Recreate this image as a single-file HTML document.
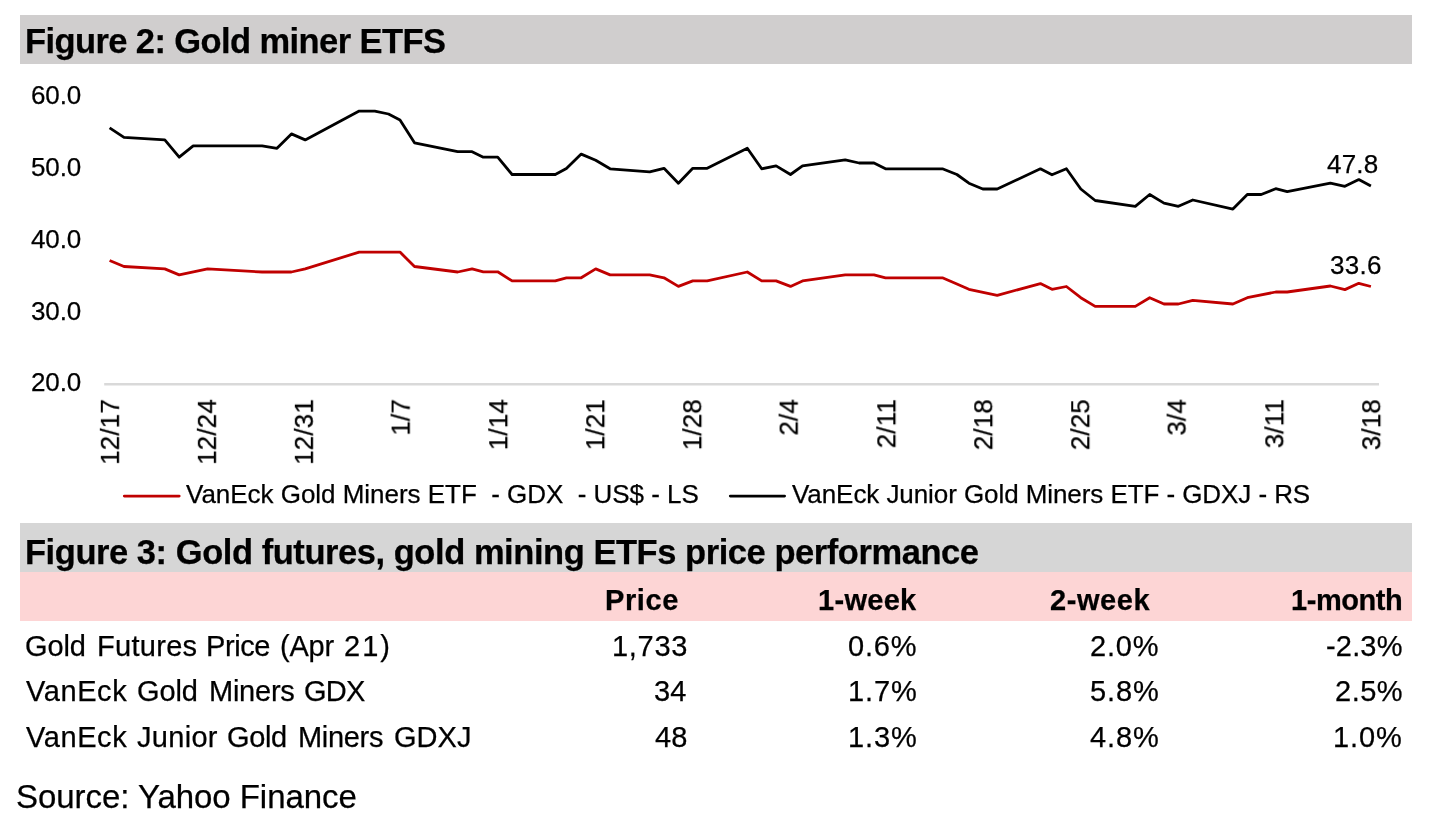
<!DOCTYPE html>
<html><head><meta charset="utf-8"><title>Gold miner ETFs</title><style>
html,body{margin:0;padding:0;background:#fff;}
body{width:1440px;height:833px;position:relative;overflow:hidden;font-family:"Liberation Sans",sans-serif;color:#000;}
.t{position:absolute;white-space:pre;line-height:1;will-change:transform;-webkit-text-stroke:0.25px #000;}
.b{font-weight:bold;}
.bar{position:absolute;left:20px;width:1392px;}
</style></head><body>
<div class="bar" style="top:15px;height:49px;background:#d0cece;"></div>
<div class="bar" style="top:523px;height:49px;background:#d6d6d6;"></div>
<div class="bar" style="top:572px;height:49px;background:#fdd5d5;"></div>
<div class="t b" style="left:25.30px;top:23.78px;font-size:34.5px;letter-spacing:-0.592px;">Figure 2: Gold miner ETFS</div>
<div class="t" style="left:31.30px;top:81.98px;font-size:26px;letter-spacing:-0.133px;">60.0</div>
<div class="t" style="left:31.30px;top:153.98px;font-size:26px;letter-spacing:-0.133px;">50.0</div>
<div class="t" style="left:31.30px;top:225.98px;font-size:26px;letter-spacing:-0.133px;">40.0</div>
<div class="t" style="left:31.30px;top:297.98px;font-size:26px;letter-spacing:-0.133px;">30.0</div>
<div class="t" style="left:31.30px;top:368.98px;font-size:26px;letter-spacing:-0.133px;">20.0</div>
<div class="t" style="left:1327.30px;top:150.98px;font-size:26px;letter-spacing:0.167px;">47.8</div>
<div class="t" style="left:1330.10px;top:251.98px;font-size:26px;letter-spacing:0.300px;">33.6</div>
<div class="t" style="left:185.50px;top:480.98px;font-size:26px;letter-spacing:-0.027px;">VanEck Gold Miners ETF  - GDX  - US$ - LS</div>
<div class="t" style="left:791.50px;top:480.98px;font-size:26px;letter-spacing:-0.073px;">VanEck Junior Gold Miners ETF - GDXJ - RS</div>
<div class="t b" style="left:25.30px;top:534.78px;font-size:34.5px;letter-spacing:-0.449px;">Figure 3: Gold futures, gold mining ETFs price performance</div>
<div class="t b" style="left:605.10px;top:586.44px;font-size:29px;letter-spacing:0.600px;">Price</div>
<div class="t b" style="left:818.00px;top:586.44px;font-size:29px;letter-spacing:0.300px;">1-week</div>
<div class="t b" style="left:1049.70px;top:586.44px;font-size:29px;letter-spacing:0.580px;">2-week</div>
<div class="t b" style="left:1291.00px;top:586.44px;font-size:29px;letter-spacing:-0.450px;">1-month</div>
<div class="t" style="left:25.10px;top:632.44px;font-size:29px;letter-spacing:-0.100px;">Gold</div>
<div class="t" style="left:97.00px;top:632.44px;font-size:29px;letter-spacing:0.300px;">Futures</div>
<div class="t" style="left:206.10px;top:632.44px;font-size:29px;letter-spacing:-0.400px;">Price</div>
<div class="t" style="left:280.30px;top:632.44px;font-size:29px;letter-spacing:-0.233px;">(Apr</div>
<div class="t" style="left:343.60px;top:632.44px;font-size:29px;letter-spacing:2.050px;">21)</div>
<div class="t" style="left:26.10px;top:677.44px;font-size:29px;letter-spacing:0.580px;">VanEck</div>
<div class="t" style="left:137.30px;top:677.44px;font-size:29px;letter-spacing:-0.100px;">Gold</div>
<div class="t" style="left:209.00px;top:677.44px;font-size:29px;letter-spacing:-0.240px;">Miners</div>
<div class="t" style="left:304.30px;top:677.44px;font-size:29px;letter-spacing:-0.750px;">GDX</div>
<div class="t" style="left:26.10px;top:723.44px;font-size:29px;letter-spacing:0.580px;">VanEck</div>
<div class="t" style="left:137.30px;top:723.44px;font-size:29px;letter-spacing:0.300px;">Junior</div>
<div class="t" style="left:226.50px;top:723.44px;font-size:29px;letter-spacing:-0.367px;">Gold</div>
<div class="t" style="left:297.90px;top:723.44px;font-size:29px;letter-spacing:-0.320px;">Miners</div>
<div class="t" style="left:393.70px;top:723.44px;font-size:29px;letter-spacing:0.033px;">GDXJ</div>
<div class="t" style="left:611.70px;top:632.44px;font-size:29px;letter-spacing:0.700px;">1,733</div>
<div class="t" style="left:654.30px;top:677.44px;font-size:29px;">34</div>
<div class="t" style="left:655.30px;top:723.44px;font-size:29px;">48</div>
<div class="t" style="left:848.00px;top:632.44px;font-size:29px;letter-spacing:0.833px;">0.6%</div>
<div class="t" style="left:847.60px;top:677.44px;font-size:29px;letter-spacing:0.900px;">1.7%</div>
<div class="t" style="left:847.60px;top:723.44px;font-size:29px;letter-spacing:0.900px;">1.3%</div>
<div class="t" style="left:1090.30px;top:632.44px;font-size:29px;letter-spacing:0.833px;">2.0%</div>
<div class="t" style="left:1089.90px;top:677.44px;font-size:29px;letter-spacing:0.900px;">5.8%</div>
<div class="t" style="left:1089.90px;top:723.44px;font-size:29px;letter-spacing:0.900px;">4.8%</div>
<div class="t" style="left:1325.60px;top:632.44px;font-size:29px;letter-spacing:0.175px;">-2.3%</div>
<div class="t" style="left:1334.80px;top:677.44px;font-size:29px;letter-spacing:0.500px;">2.5%</div>
<div class="t" style="left:1333.40px;top:723.44px;font-size:29px;letter-spacing:0.900px;">1.0%</div>
<div class="t" style="left:16.20px;top:780.05px;font-size:33px;letter-spacing:-0.050px;">Source: Yahoo Finance</div>
<svg style="position:absolute;left:0;top:0" width="1440" height="833" viewBox="0 0 1440 833">
<line x1="104.2" y1="384.3" x2="1379" y2="384.3" stroke="#d9d9d9" stroke-width="2.5"/>
<polyline points="109.6,260.5 124,266.5 164.8,268.9 179.2,274.9 207.6,268.9 262.1,272 291.4,272 305.2,268.9 359.2,252.1 400,252.1 414.5,266.5 457.7,272 472.1,268.9 483.3,271.8 497.7,271.8 512.1,280.9 555.3,280.9 566.4,277.8 581.2,277.8 595.7,268.9 610.1,274.9 649.7,274.9 664,277.8 678.4,286.4 692.8,280.9 707.2,280.9 747.3,272 761.7,280.9 776.1,280.9 790.5,286.4 802.5,280.9 845.2,274.9 874,274.9 885.5,277.8 942.4,277.8 956.9,284 968.9,289.3 997.2,295.3 1040.4,283.6 1052,289.3 1066.4,286.5 1080.8,297.7 1095.2,306.4 1135.3,306.4 1149.7,297.7 1164,304 1178.4,304 1192.8,300.4 1232.9,304 1247.3,297.7 1275.7,292 1287.2,292 1330.4,286 1344.9,289.6 1358.8,283.3 1370.9,286.5" fill="none" stroke="#c00000" stroke-width="2.8" stroke-linejoin="round"/>
<polyline points="109.6,127.9 124,137.3 164.8,139.9 179.2,157.2 193.2,145.9 262.1,145.9 277,148.3 291.4,133.9 305.2,139.9 359.2,111.1 374.8,111.1 388.5,114 400,120 414.5,142.8 457.7,151.7 472.1,151.7 483.3,157.2 497.7,157.2 512.1,174.5 555.3,174.5 566.4,168.5 581.2,154.1 595.7,160.3 610.1,168.8 649.7,171.9 664,168.3 678.4,183.2 692.8,168.3 707.2,168.3 747.3,148.3 761.7,168.8 776.1,165.9 790.5,174.5 802.5,165.9 845.2,159.9 859.1,163 874,163 885.5,168.8 942.4,168.8 956.9,174.5 968.9,183.2 982.8,189 997.2,189 1040.4,168.8 1052,174.8 1066.4,168.8 1080.8,189 1095.2,200.5 1135.3,206.3 1149.7,194.5 1164,203.1 1178.4,206.3 1192.8,200 1232.9,209.1 1247.3,194.5 1261.2,194.5 1275.7,188.7 1287.2,191.6 1330.4,183.2 1344.9,186.3 1358.8,179.6 1370.9,186.1" fill="none" stroke="#000" stroke-width="2.8" stroke-linejoin="round"/>
<line x1="124.3" y1="496.1" x2="179.2" y2="496.1" stroke="#c00000" stroke-width="2.8" stroke-linecap="round"/>
<line x1="730.3" y1="496.1" x2="784.6" y2="496.1" stroke="#000" stroke-width="2.8" stroke-linecap="round"/>
</svg>
<div style="position:absolute;left:109.90px;top:399.0px;width:0;height:0;"><div class="t" style="right:0;top:-13.00px;font-size:26px;letter-spacing:0.15px;transform-origin:100% 50%;transform:rotate(-90deg);">12/17</div></div>
<div style="position:absolute;left:206.90px;top:399.0px;width:0;height:0;"><div class="t" style="right:0;top:-13.00px;font-size:26px;letter-spacing:0.15px;transform-origin:100% 50%;transform:rotate(-90deg);">12/24</div></div>
<div style="position:absolute;left:303.90px;top:399.0px;width:0;height:0;"><div class="t" style="right:0;top:-13.00px;font-size:26px;letter-spacing:0.15px;transform-origin:100% 50%;transform:rotate(-90deg);">12/31</div></div>
<div style="position:absolute;left:400.90px;top:399.0px;width:0;height:0;"><div class="t" style="right:0;top:-13.00px;font-size:26px;letter-spacing:0.15px;transform-origin:100% 50%;transform:rotate(-90deg);">1/7</div></div>
<div style="position:absolute;left:497.90px;top:399.0px;width:0;height:0;"><div class="t" style="right:0;top:-13.00px;font-size:26px;letter-spacing:0.15px;transform-origin:100% 50%;transform:rotate(-90deg);">1/14</div></div>
<div style="position:absolute;left:594.90px;top:399.0px;width:0;height:0;"><div class="t" style="right:0;top:-13.00px;font-size:26px;letter-spacing:0.15px;transform-origin:100% 50%;transform:rotate(-90deg);">1/21</div></div>
<div style="position:absolute;left:691.90px;top:399.0px;width:0;height:0;"><div class="t" style="right:0;top:-13.00px;font-size:26px;letter-spacing:0.15px;transform-origin:100% 50%;transform:rotate(-90deg);">1/28</div></div>
<div style="position:absolute;left:788.90px;top:399.0px;width:0;height:0;"><div class="t" style="right:0;top:-13.00px;font-size:26px;letter-spacing:0.15px;transform-origin:100% 50%;transform:rotate(-90deg);">2/4</div></div>
<div style="position:absolute;left:885.90px;top:399.0px;width:0;height:0;"><div class="t" style="right:0;top:-13.00px;font-size:26px;letter-spacing:0.15px;transform-origin:100% 50%;transform:rotate(-90deg);">2/11</div></div>
<div style="position:absolute;left:982.90px;top:399.0px;width:0;height:0;"><div class="t" style="right:0;top:-13.00px;font-size:26px;letter-spacing:0.15px;transform-origin:100% 50%;transform:rotate(-90deg);">2/18</div></div>
<div style="position:absolute;left:1079.90px;top:399.0px;width:0;height:0;"><div class="t" style="right:0;top:-13.00px;font-size:26px;letter-spacing:0.15px;transform-origin:100% 50%;transform:rotate(-90deg);">2/25</div></div>
<div style="position:absolute;left:1176.90px;top:399.0px;width:0;height:0;"><div class="t" style="right:0;top:-13.00px;font-size:26px;letter-spacing:0.15px;transform-origin:100% 50%;transform:rotate(-90deg);">3/4</div></div>
<div style="position:absolute;left:1273.90px;top:399.0px;width:0;height:0;"><div class="t" style="right:0;top:-13.00px;font-size:26px;letter-spacing:0.15px;transform-origin:100% 50%;transform:rotate(-90deg);">3/11</div></div>
<div style="position:absolute;left:1370.90px;top:399.0px;width:0;height:0;"><div class="t" style="right:0;top:-13.00px;font-size:26px;letter-spacing:0.15px;transform-origin:100% 50%;transform:rotate(-90deg);">3/18</div></div>
</body></html>
